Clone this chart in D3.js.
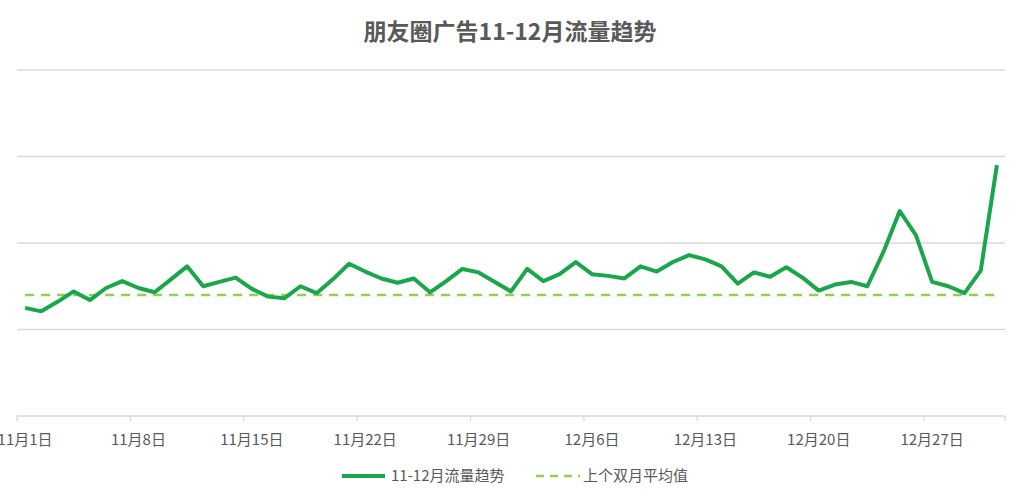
<!DOCTYPE html>
<html>
<head>
<meta charset="utf-8">
<script src="https://cdn.jsdelivr.net/npm/d3@7"></script>
<style>
    body { margin: 0; background: #fff; }
    text { font-family: "Noto Sans CJK SC", "Noto Sans", sans-serif; fill: #595959; }
</style>
</head>
<body>
<script>
// data (no y labels in the original, units are arbitrary)
let days = d3.range(61).map(function(i) {
    return new Date(2017, 10, 1 + i);
});

let traffic = [125, 121, 132, 144, 134, 148, 156, 148, 143, 158,
    173, 150, 155, 160, 147, 138, 136, 150, 142, 158,
    176, 167, 159, 154, 159, 143, 156, 170, 166, 155,
    144, 170, 156, 164, 178, 164, 162, 159, 173, 167,
    178, 186, 181, 173, 153, 166, 161, 172, 160, 145,
    152, 155, 150, 190, 237, 209, 155, 150, 142, 168,
    290];

let lastAvg = 140;

let yTicks = [0, 100, 200, 300, 400];

let seriesNames = ["11-12月流量趋势", "上个双月平均值"];

let w = 1025,
    h = 500;

let svg = d3.select("body")
    .append("svg")
    .attr("width", w)
    .attr("height", h);

// band scale so ticks sit between days and points sit in the middle
let x = d3.scaleBand()
    .domain(days)
    .range([17, 1005]);

let y = d3.scaleLinear()
    .domain([0, 400])
    .range([416, 70]);

let fmt = d3.timeFormat("%-m月%-d日");

// gridlines
svg.append("g")
    .selectAll("line")
    .data(yTicks)
    .enter()
    .append("line")
    .attr("x1", 17)
    .attr("x2", 1005)
    .attr("y1", function(d) { return y(d); })
    .attr("y2", function(d) { return y(d); })
    .style("stroke", "#d9d9d9")
    .style("stroke-width", 1.3);

// tick marks every 7 days, at the left edge of the band
let weekly = days.filter(function(d, i) { return i % 7 == 0; });

svg.append("g")
    .selectAll("line")
    .data(weekly.concat([null]))
    .enter()
    .append("line")
    .attr("x1", function(d) { return d ? x(d) : 1005; })
    .attr("x2", function(d) { return d ? x(d) : 1005; })
    .attr("y1", y(0))
    .attr("y2", y(0) + 5)
    .style("stroke", "#d9d9d9")
    .style("stroke-width", 1.3);

svg.append("g")
    .selectAll("text")
    .data(weekly)
    .enter()
    .append("text")
    .attr("x", function(d) { return x(d) + x.bandwidth() / 2; })
    .attr("y", 445)
    .attr("text-anchor", "middle")
    .style("font-size", "15px")
    .text(fmt);

// dashed average line
let avgLine = d3.line()
    .x(function(d) { return x(d) + x.bandwidth() / 2; })
    .y(function() { return y(lastAvg); });

svg.append("path")
    .datum(days)
    .attr("d", avgLine)
    .style("fill", "none")
    .style("stroke", "#92d050")
    .style("stroke-width", 2.5)
    .style("stroke-dasharray", "9,7");

// main series
let line = d3.line()
    .x(function(d, i) { return x(days[i]) + x.bandwidth() / 2; })
    .y(function(d) { return y(d); });

svg.append("path")
    .datum(traffic)
    .attr("d", line)
    .style("fill", "none")
    .style("stroke", "#1aa64b")
    .style("stroke-width", 4)
    .style("stroke-linejoin", "round");

// title
svg.append("text")
    .attr("x", 510)
    .attr("y", 40)
    .attr("text-anchor", "middle")
    .style("font-size", "23px")
    .style("font-weight", "bold")
    .text("朋友圈广告11-12月流量趋势");

// legend
let legend = svg.append("g");

legend.append("line")
    .attr("x1", 342).attr("x2", 385)
    .attr("y1", 476).attr("y2", 476)
    .style("stroke", "#1aa64b")
    .style("stroke-width", 4);

legend.append("text")
    .attr("x", 391)
    .attr("y", 481)
    .style("font-size", "15px")
    .text(seriesNames[0]);

legend.append("line")
    .attr("x1", 536).attr("x2", 580)
    .attr("y1", 476).attr("y2", 476)
    .style("stroke", "#92d050")
    .style("stroke-width", 2.5)
    .style("stroke-dasharray", "8,6");

legend.append("text")
    .attr("x", 583)
    .attr("y", 481)
    .style("font-size", "15px")
    .text(seriesNames[1]);
</script>
</body>
</html>
